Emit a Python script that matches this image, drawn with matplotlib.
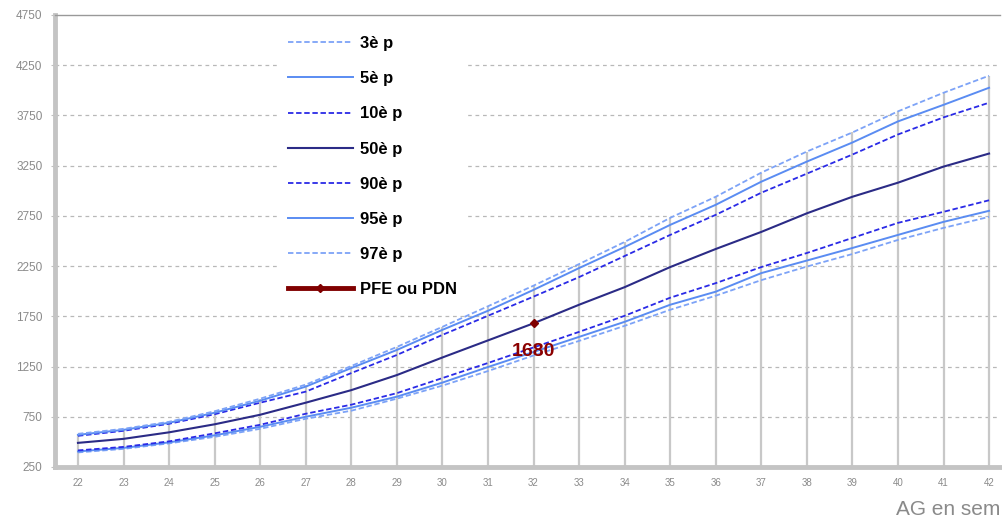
import matplotlib
matplotlib.use("Agg")
import matplotlib.pyplot as plt

plt.rcParams['font.family'] = ['Liberation Sans', 'DejaVu Sans']

# semaines d'aménorrhée
weeks = list(range(22, 43))

# courbes de percentiles (poids en g)
p3 = [395, 430, 485, 550, 630, 730, 810, 930, 1060, 1205, 1360, 1505, 1655, 1815, 1955, 2110, 2245, 2370, 2510, 2630, 2740]
p5 = [405, 440, 495, 565, 650, 750, 840, 950, 1090, 1245, 1395, 1545, 1695, 1865, 1995, 2180, 2305, 2430, 2560, 2690, 2800]
p10 = [415, 450, 505, 585, 670, 780, 870, 985, 1135, 1285, 1440, 1595, 1755, 1935, 2080, 2240, 2380, 2530, 2680, 2790, 2905]
p50 = [490, 530, 595, 675, 770, 890, 1015, 1165, 1340, 1510, 1680, 1865, 2040, 2240, 2420, 2590, 2775, 2940, 3080, 3240, 3370]
p90 = [560, 610, 680, 775, 890, 1000, 1185, 1365, 1565, 1755, 1946, 2140, 2350, 2560, 2760, 2980, 3170, 3360, 3560, 3730, 3876]
p95 = [570, 620, 690, 790, 910, 1050, 1235, 1415, 1615, 1805, 2013, 2230, 2440, 2660, 2860, 3090, 3290, 3480, 3690, 3855, 4025]
p97 = [580, 630, 700, 805, 930, 1070, 1255, 1445, 1645, 1850, 2055, 2270, 2490, 2730, 2940, 3180, 3390, 3580, 3790, 3975, 4145]

# poids foetal estimé
pfe_week = [32]
pfe_val = [1680]

y_ticks = list(range(250, 4751, 500))

fig = plt.figure(figsize=(10.03, 5.22), dpi=100)
ax = fig.add_axes([0.0548, 0.1054, 0.9422, 0.866])

# lignes verticales depuis le 97e percentile
ax.vlines(weeks, 250, p97, color='#c8c8c8', lw=1.6, zorder=1)

for v in y_ticks[1:-1]:
    ax.axhline(v, color='#b8b8b8', lw=0.9, ls=(0, (3, 3)), zorder=0)

light = '#7da3f7'
mid = '#5a8cf2'
blue = '#2a2ae6'
navy = '#2b2b86'

ax.plot(weeks, p3, color=light, lw=1.3, ls=(0, (3, 1.5)), label='3è p', zorder=3)
ax.plot(weeks, p5, color=mid, lw=1.4, label='5è p', zorder=3)
ax.plot(weeks, p10, color=blue, lw=1.3, ls=(0, (3, 1.5)), label='10è p', zorder=3)
ax.plot(weeks, p50, color=navy, lw=1.5, label='50è p', zorder=3)
ax.plot(weeks, p90, color=blue, lw=1.3, ls=(0, (3, 1.5)), label='90è p', zorder=3)
ax.plot(weeks, p95, color=mid, lw=1.4, label='95è p', zorder=3)
ax.plot(weeks, p97, color=light, lw=1.3, ls=(0, (3, 1.5)), label='97è p', zorder=3)
ax.plot(pfe_week, pfe_val, color='#800000', lw=3.5, marker='D', ms=4,
        label='PFE ou PDN', zorder=4)

for w, v in zip(pfe_week, pfe_val):
    ax.annotate(str(v), (w, v), xytext=(0, -20), textcoords='offset points',
                ha='center', va='center', color='#8b0000', fontsize=14,
                fontweight='bold',
                family=['Liberation Sans Narrow', 'Liberation Sans'])

ax.set_xlim(21.495, 42.24)
ax.set_ylim(250, 4750)
ax.set_xticks(weeks)
ax.set_yticks(y_ticks)
ax.tick_params(axis='x', length=0, labelsize=7, colors='#8a8a8a', pad=8)
ax.tick_params(axis='y', length=3, color='#c0c0c0', labelsize=8.5, colors='#8a8a8a', pad=6)

for s in ['left', 'bottom']:
    ax.spines[s].set_color('#c4c4c4')
    ax.spines[s].set_linewidth(3.5)
ax.spines['top'].set_color('#999999')
ax.spines['top'].set_linewidth(1)
ax.spines['right'].set_visible(False)

leg = ax.legend(loc='upper left', bbox_to_anchor=(0.236, 0.9754), frameon=True,
                facecolor='white', edgecolor='white', framealpha=1,
                handlelength=3.9, handletextpad=0.45, labelspacing=1.21,
                borderpad=0.6, borderaxespad=0,
                prop={'weight': 'bold', 'size': 12})
leg.set_zorder(5)

fig.text(0.997, 0.005, 'AG en sem', ha='right', va='bottom', fontsize=15, color='#8a8a8a')

fig.savefig('out.png', dpi=100)
